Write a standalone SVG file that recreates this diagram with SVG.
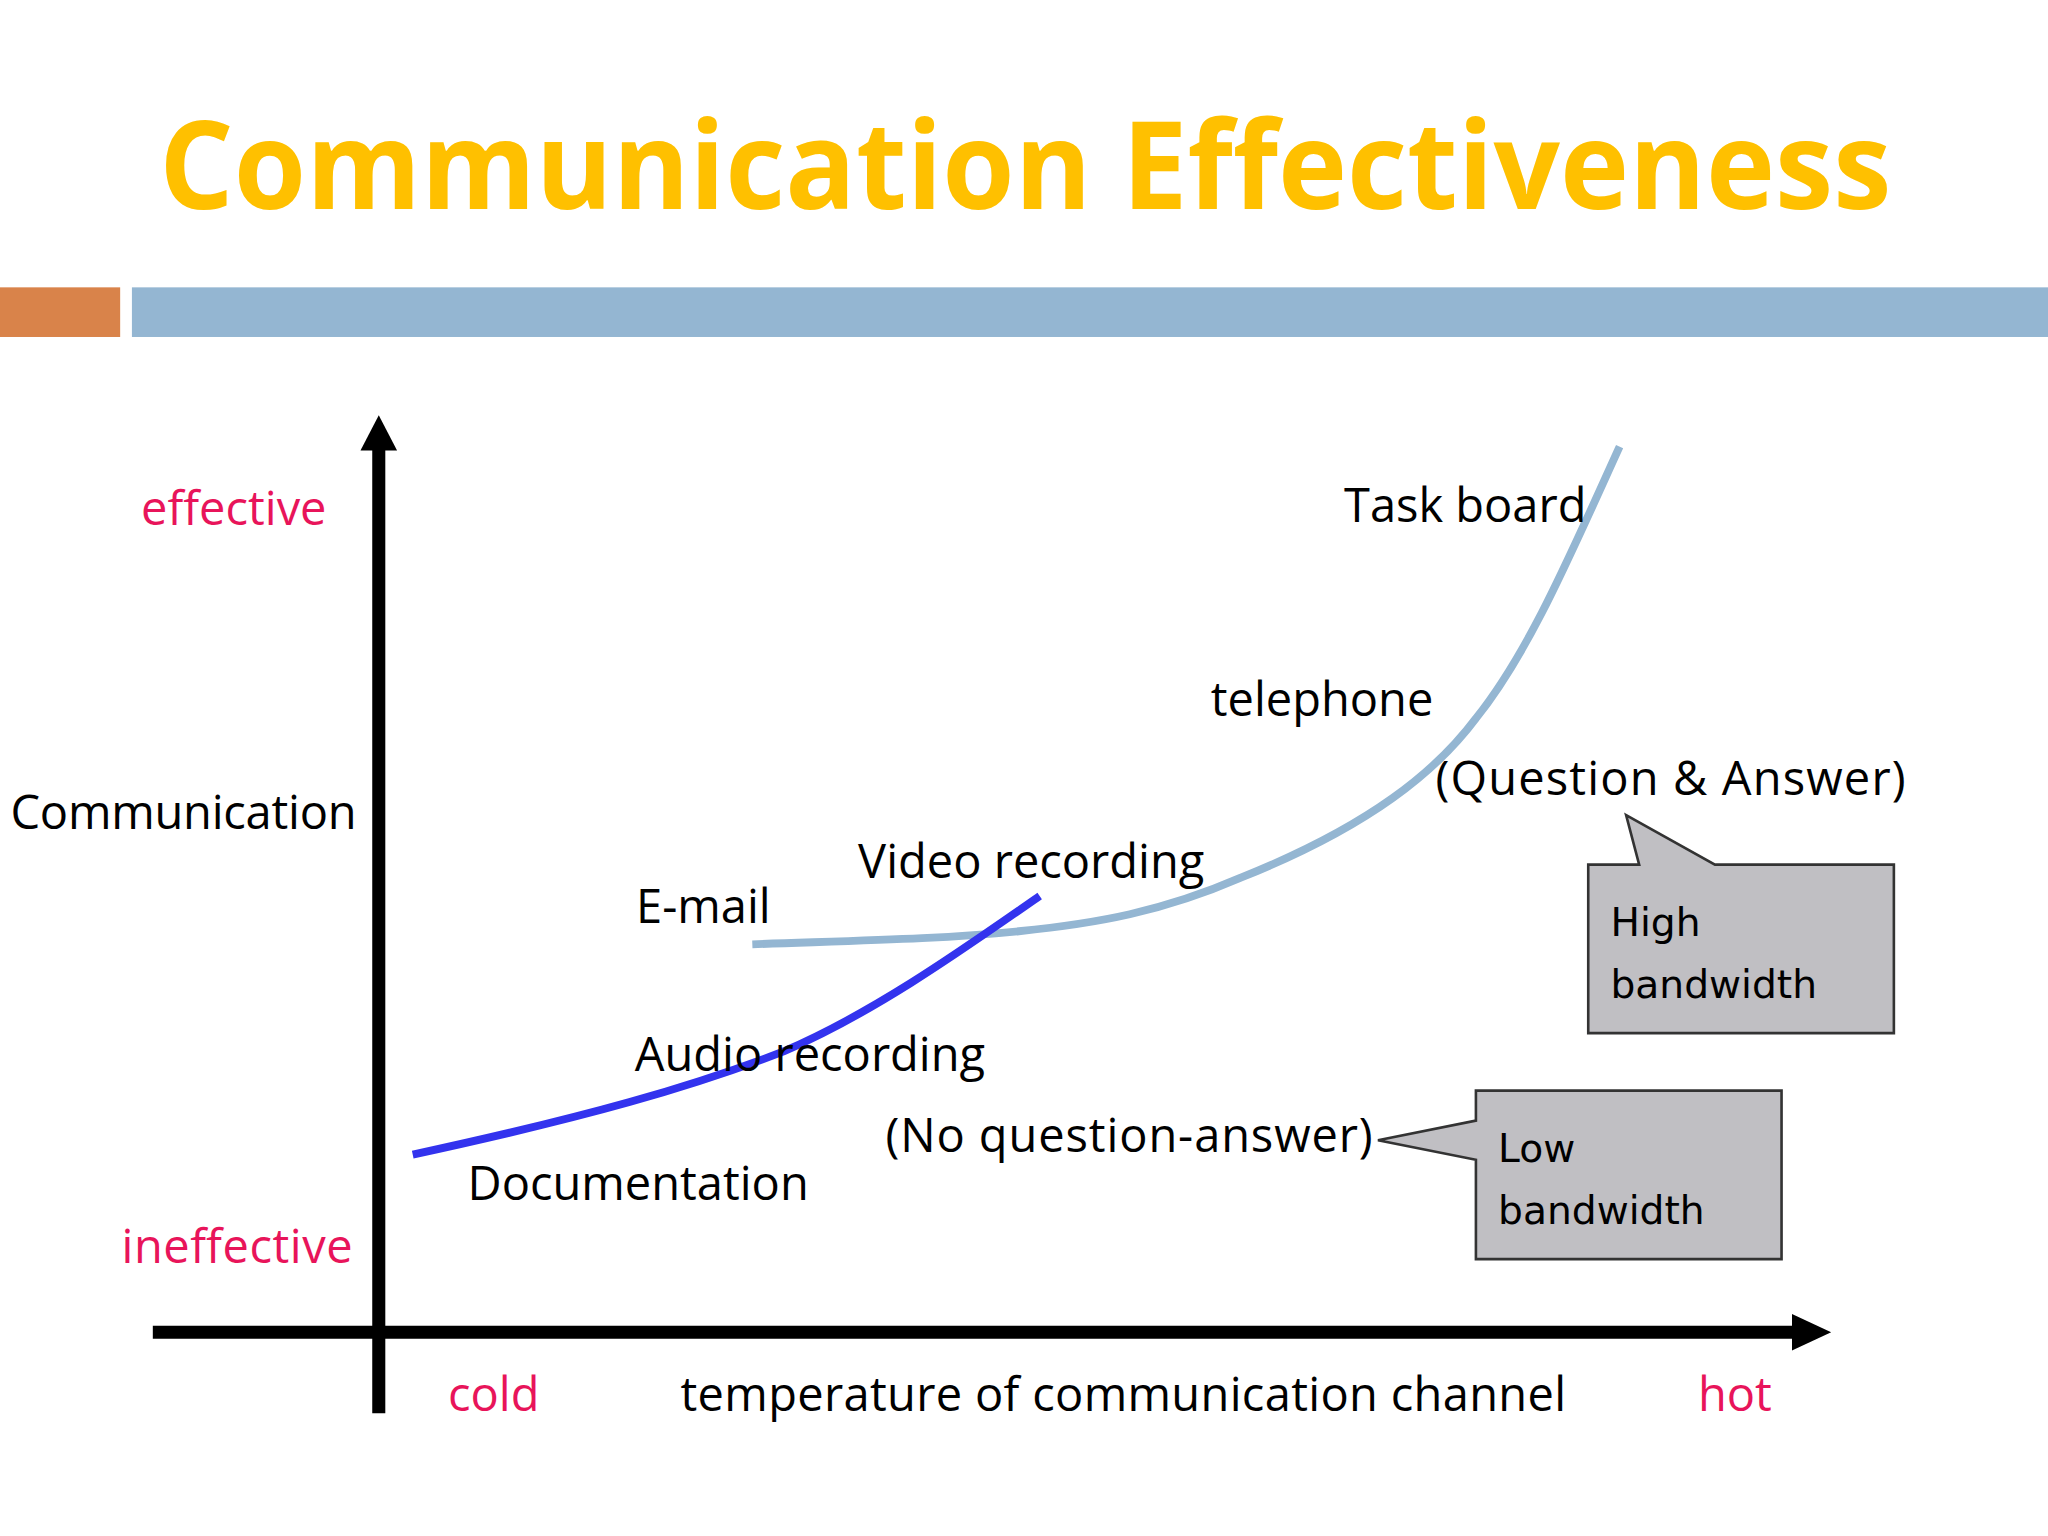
<svg xmlns="http://www.w3.org/2000/svg" width="2048" height="1536" viewBox="0 0 2048 1536">
<style>
.t{font-family:"Open Sans","Liberation Sans",sans-serif;font-size:36px;fill:#000}
.p{fill:#E8145A}
.c{font-family:"DejaVu Sans","Liberation Sans",sans-serif;font-size:30px;fill:#000}
.box{fill:#C0BFC3;stroke:#333;stroke-width:2}
</style>
<rect width="2048" height="1536" fill="#fff"/>
<g transform="scale(1.30612)">
<g id="title"><text x="122" y="160" font-family="'Open Sans','Liberation Sans',sans-serif" font-weight="bold" font-size="94" fill="#FFC000" textLength="1326" lengthAdjust="spacingAndGlyphs">Communication Effectiveness</text>
<rect x="0" y="220" width="92" height="38" fill="#D9834A"/>
<rect x="101" y="220" width="1467" height="38" fill="#94B6D2"/></g>
<g id="axes" stroke="#000" stroke-width="10" fill="none">
<line x1="290" y1="1082" x2="290" y2="340"/>
<line x1="117" y1="1020" x2="1380" y2="1020"/>
<polygon points="276,345 290,318 304,345" fill="#000" stroke="none"/>
<polygon points="1372,1006 1402,1020 1372,1034" fill="#000" stroke="none"/>
</g>
<g id="connectors" fill="none" stroke-width="6">
<path d="M576,723 C660,720 720,719 780,713 C840,707 890,698 950,672 C1050,632 1100,590 1130,550 C1170,500 1200,430 1240,342" stroke="#94B6D2"/>
<path d="M316,884 C450,855 530,832 600,805 C670,775 740,725 796,686" stroke="#3333EE"/>
</g>
<g id="labels">
<text class="t p" x="108" y="402">effective</text>
<text class="t" x="8" y="635" textLength="265">Communication</text>
<text class="t p" x="93" y="967" textLength="177">ineffective</text>
<text class="t p" x="343" y="1080">cold</text>
<text class="t" x="521" y="1080" textLength="678">temperature of communication channel</text>
<text class="t p" x="1300" y="1080">hot</text>
<text class="t" x="1029" y="400">Task board</text>
<text class="t" x="927" y="548">telephone</text>
<text class="t" x="1099" y="609" textLength="360">(Question &amp; Answer)</text>
<text class="t" x="657" y="672">Video recording</text>
<text class="t" x="487" y="707">E-mail</text>
<text class="t" x="486" y="820">Audio recording</text>
<text class="t" x="678" y="882" textLength="373">(No question-answer)</text>
<text class="t" x="358" y="919">Documentation</text>
</g>
<g id="high">
<path class="box" d="M1216,662 L1255,662 L1245,624 L1313,662 L1450,662 L1450,791 L1216,791 Z"/>
<text class="c" x="1233" y="717">High</text><text class="c" x="1233" y="764">bandwidth</text>
</g>
<g id="low">
<path class="box" d="M1130,835 L1364,835 L1364,964 L1130,964 L1130,888 L1055,873 L1130,858 Z"/>
<text class="c" x="1147" y="890">Low</text><text class="c" x="1147" y="937">bandwidth</text>
</g>
</g>
</svg>
